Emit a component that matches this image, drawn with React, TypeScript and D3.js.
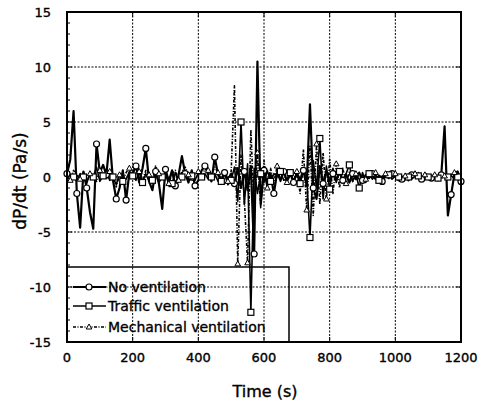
import React from "react";
import * as d3 from "d3";

const times: number[] = d3.range(0, 1201, 10);

const noVent: number[] = [
  0.3, 1.6, 6.0, -1.5, -4.6, 0.5, -1.0, -3.2, -4.7, 3.0,
  0.4, 1.1, 0.2, 3.4, -0.3, -2.0, -1.0, 0.6, -2.1, 0.4,
  0.3, 1.0, -0.5, 0.8, 2.6, -0.4, -1.2, 0.5, -0.6, -2.9,
  0.7, -0.4, 0.6, -0.8, 0.2, 1.9, 0.3, -0.5, 0.6, -0.8,
  -0.3, 0.6, 1.0, 0.2, -0.4, 1.8, 0.2, -0.3, 0.4, -0.2,
  0.3, -0.6, 0.8, -1.0, 0.5, -1.2, 1.0, -7.0, 10.5, -2.5,
  0.6, -0.8, 0.3, -1.5, 0.4, -0.3, 0.5, -0.4, 0.3, -0.5,
  0.4, -0.3, 0.6, -0.8, 6.6, -1.0, -2.0, 1.0, -0.6, 0.5,
  -0.4, 0.3, -0.2, 0.4, -0.3, 0.2, -0.5, 0.3, -0.2, 0.4,
  -0.3, 0.2, -0.1, 0.3, -0.2, 0.1, -0.4, 0.2, -0.1, 0.3,
  0.0, -0.3, -0.2, 0.1, -0.3, 0.2, 0.4, 0.1, -0.2, 0.3,
  0.1, -0.1, 0.2, -0.3, 0.2, 4.6, -3.5, -1.6, 0.3, 0.5,
  -0.4,
];

const trafficVent: number[] = [
  0.0, 0.2, 0.0, -0.3, 0.3, 0.0, -0.6, 0.4, 0.0, 0.9,
  -0.4, 0.1, 0.5, -0.3, 0.0, -0.7, 0.3, -0.4, -0.2, 0.5,
  0.1, -0.3, 0.4, -0.5, 0.3, -0.4, -0.3, 0.3, -0.5, 0.0,
  0.3, -0.7, -0.6, 0.4, -0.5, 0.0, 0.4, -0.3, 0.1, -0.3,
  0.4, 0.0, 0.3, -0.2, 0.0, 0.3, -0.4, -0.4, 0.3, -0.7,
  -0.3, 0.9, -2.2, 5.0, -2.5, 1.2, -12.3, 0.8, -1.5, 0.3,
  -0.5, 0.6, -0.4, 0.3, 0.1, 0.5, -0.3, -0.2, 0.4, -0.3,
  0.2, -0.6, 0.5, 0.1, -5.5, 1.5, -1.0, 3.5, -2.0, 1.0,
  -1.1, 0.8, -0.5, 0.5, -0.3, 0.3, 1.1, -0.4, 0.3, -1.0,
  0.4, -0.5, 0.3, -0.2, 0.2, -0.3, 0.1, 0.0, 0.2, -0.2,
  0.1, 0.0, -0.1, 0.2, 0.0, -0.2, 0.1, 0.1, -0.1, 0.0,
  0.0, 0.1, -0.2, -0.1, 0.1, 0.0, 0.0, 0.1, -0.1, 0.0,
  0.0,
];

const mechVent: number[] = [
  0.0, -0.3, 0.6, 0.2, -0.2, 0.5, -0.5, 0.3, 0.1, -0.4,
  0.6, 0.3, -0.2, 0.5, 0.1, -0.9, 0.2, -0.3, 0.4, 0.8,
  0.3, 1.2, 0.5, -0.3, 0.6, 0.2, -0.4, 1.0, 0.3, -0.2,
  0.5, -0.6, 0.3, 0.6, -0.3, 0.5, 0.9, 0.2, -0.4, 0.3,
  0.5, -0.2, 0.8, 0.6, 0.2, 0.9, 0.4, -0.2, 0.6, -0.4,
  0.5, 8.3, -7.9, 2.0, -2.0, -7.8, 4.3, -3.0, 2.2, -2.8,
  1.5, -1.0, 0.8, -0.6, 1.0, -0.4, 0.6, -0.5, 0.4, -0.3,
  0.5, -1.5, 2.5, -3.0, 2.8, -3.5, 3.0, -2.5, 2.2, -2.0,
  1.6, -1.5, 1.2, -1.0, 0.8, -0.6, 0.5, -0.4, 0.3, -0.3,
  0.2, -0.2, 0.3, 0.1, 0.4, 0.2, -0.1, 0.3, 0.1, 0.2,
  0.3, 0.0, -0.2, 0.1, 0.2, 0.0, 0.3, 0.4, 0.1, 0.2,
  0.0, -0.1, 0.2, 0.0, 0.3, 0.1, -0.2, 0.2, 0.4, 0.2,
  0.0,
];

const seriesNames = ["No ventilation", "Traffic ventilation", "Mechanical ventilation"];
const xTicks = [0, 200, 400, 600, 800, 1000, 1200];
const yTicks = [-15, -10, -5, 0, 5, 10, 15];
const yMinorTicks = d3.range(-15, 16, 1);

const W = 482;
const H = 401;
const L = 67, R = 461, T = 12, B = 342;

type Marker = "circle" | "square" | "triangle";

function MarkerShape({ kind, x, y }: { kind: Marker; x: number; y: number }) {
  if (kind === "circle") return <circle cx={x} cy={y} r={3} fill="#fff" stroke="#000" strokeWidth={1.2} />;
  if (kind === "square") return <rect x={x - 3} y={y - 3} width={6} height={6} fill="#fff" stroke="#000" strokeWidth={1.2} />;
  return <path d={`M${x},${y - 3}L${x + 2.8},${y + 2}L${x - 2.8},${y + 2}Z`} fill="#fff" stroke="#000" strokeWidth={1} />;
}

export default function App() {
  const x = d3.scaleLinear().domain([0, 1200]).range([L, R]);
  const y = d3.scaleLinear().domain([-15, 15]).range([B, T]);
  const line = d3.line<number>().x((_, i) => x(times[i])).y((d) => y(d));

  const series = [
    { data: noVent, marker: "circle" as Marker, off: 0, width: 2.2, dash: undefined as string | undefined },
    { data: trafficVent, marker: "square" as Marker, off: 2, width: 1.6, dash: undefined as string | undefined },
    { data: mechVent, marker: "triangle" as Marker, off: 1, width: 1.6, dash: "3,1.5,1,1.5" },
  ];

  const font = "DejaVu Sans, sans-serif";
  const legendRows = [287, 306, 327];
  const textStroke = { stroke: "#000", strokeWidth: 0.35 };

  return (
    <svg width={W} height={H} style={{ position: "absolute", left: 0, top: 0, background: "#fff" }}>
      <rect width={W} height={H} fill="#fff" />
      {xTicks.slice(1, -1).map((t) => (
        <line key={"gx" + t} x1={x(t)} x2={x(t)} y1={T} y2={B} stroke="#000" strokeWidth={1} strokeDasharray="2,1.5" />
      ))}
      {yTicks.slice(1, -1).map((t) => (
        <line key={"gy" + t} x1={L} x2={R} y1={y(t)} y2={y(t)} stroke="#000" strokeWidth={1} strokeDasharray="2,1.5" />
      ))}
      {yMinorTicks.map((t) => (
        <line key={"mt" + t} x1={L} x2={L + (t % 5 === 0 ? 5 : 3)} y1={y(t)} y2={y(t)} stroke="#000" strokeWidth={1} />
      ))}
      {yTicks.map((t) => (
        <line key={"rt" + t} x1={R} x2={R - 5} y1={y(t)} y2={y(t)} stroke="#000" strokeWidth={1} />
      ))}
      {xTicks.map((t) => (
        <g key={"xt" + t}>
          <line x1={x(t)} x2={x(t)} y1={B} y2={B - 5} stroke="#000" strokeWidth={1} />
          <line x1={x(t)} x2={x(t)} y1={T} y2={T + 5} stroke="#000" strokeWidth={1} />
        </g>
      ))}
      {series.map((s, si) => (
        <path key={"l" + si} d={line(s.data) || ""} fill="none" stroke="#000" strokeWidth={s.width} strokeDasharray={s.dash} strokeLinejoin="round" />
      ))}
      {series.map((s, si) => (
        <g key={"m" + si}>
          {s.data.map((v, i) => (i % 3 === s.off ? <MarkerShape key={i} kind={s.marker} x={x(times[i])} y={y(v)} /> : null))}
        </g>
      ))}
      <path d={`M${L},267H289V${B}`} fill="none" stroke="#000" strokeWidth={1.5} />
      {series.map((s, si) => (
        <g key={"lg" + si}>
          <line x1={73} x2={106} y1={legendRows[si]} y2={legendRows[si]} stroke="#000" strokeWidth={s.width} strokeDasharray={s.dash} />
          <MarkerShape kind={s.marker} x={89} y={legendRows[si]} />
          <text x={108} y={legendRows[si] + 5} fontFamily={font} fontSize={14} fill="#000" {...textStroke}>{seriesNames[si]}</text>
        </g>
      ))}
      <rect x={L} y={T} width={R - L} height={B - T} fill="none" stroke="#000" strokeWidth={2} />
      {xTicks.map((t) => (
        <text key={"xl" + t} x={x(t)} y={362} textAnchor="middle" fontFamily={font} fontSize={13} fill="#000" {...textStroke}>{t}</text>
      ))}
      {yTicks.map((t) => (
        <text key={"yl" + t} x={51} y={y(t) + 5} textAnchor="end" fontFamily={font} fontSize={13} fill="#000" {...textStroke}>{t}</text>
      ))}
      <text x={(L + R) / 2 + 1} y={397} textAnchor="middle" fontFamily={font} fontSize={16} fill="#000" {...textStroke}>Time (s)</text>
      <text transform={`translate(26,${(T + B) / 2 + 4}) rotate(-90)`} textAnchor="middle" fontFamily={font} fontSize={17} fill="#000" {...textStroke}>dP/dt (Pa/s)</text>
    </svg>
  );
}
